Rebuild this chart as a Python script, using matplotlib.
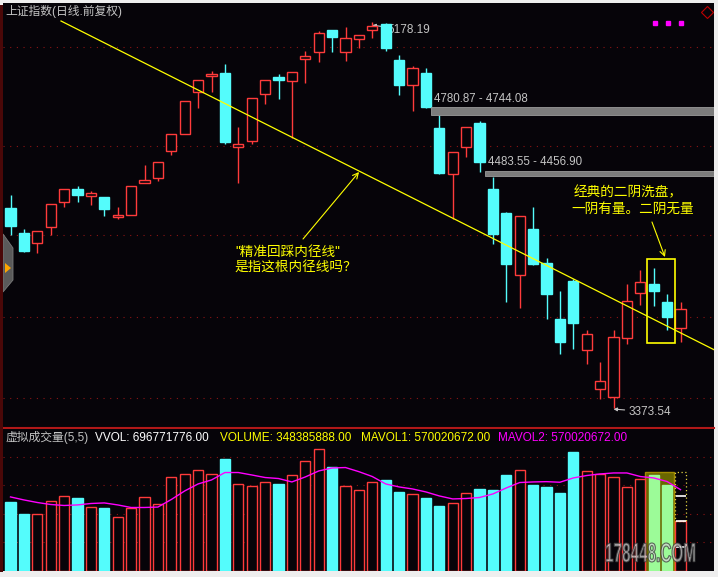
import matplotlib
import matplotlib.pyplot as plt
import matplotlib.transforms as mtransforms
from matplotlib.font_manager import FontProperties
from matplotlib.patches import PathPatch, Polygon, Rectangle
from matplotlib.textpath import TextPath

matplotlib.use("Agg")

plt.rcParams["font.family"] = ["Liberation Sans", "Noto Sans CJK SC", "DejaVu Sans"]

# 上证指数 daily candles (price)
OPEN = [4308.6, 4191.7, 4145.0, 4219.8, 4336.7, 4397.4, 4364.7, 4360.0, 4266.5, 4275.9,
        4425.5, 4448.9, 4575.1, 4654.6, 4850.9, 4925.7, 4939.7, 4593.8, 4621.8, 4841.6,
        4921.0, 4902.3, 5005.2, 5037.9, 5140.8, 5037.9, 5098.7, 5140.8, 5168.8, 5000.5,
        4883.6, 4939.7, 4682.6, 4467.6, 4593.8, 4706.0, 4397.4, 4285.2, 3995.4, 4210.4,
        4051.5, 3789.7, 3967.3, 3644.8, 3462.4, 3425.0, 3700.9, 3911.2, 3953.3, 3869.2,
        3747.6]
HIGH = [4369.4, 4210.4, 4201.1, 4327.3, 4397.4, 4411.5, 4388.1, 4360.0, 4313.3, 4411.5,
        4509.6, 4523.7, 4654.6, 4808.8, 4907.0, 4949.1, 4981.8, 4687.3, 4822.9, 4907.0,
        4935.1, 4944.4, 5042.6, 5136.1, 5140.8, 5154.8, 5117.4, 5178.2, 5173.5, 5023.9,
        4972.5, 4963.1, 4743.4, 4570.4, 4687.3, 4715.3, 4453.5, 4289.9, 4271.2, 4313.3,
        4074.8, 3920.6, 3976.7, 3738.3, 3588.7, 3738.3, 3953.3, 4018.8, 4028.1, 3906.6,
        3869.2]
LOW = [4182.4, 4102.9, 4098.2, 4182.4, 4313.3, 4336.7, 4322.6, 4271.2, 4257.2, 4275.9,
       4425.5, 4434.8, 4556.4, 4654.6, 4776.1, 4850.9, 4607.8, 4425.5, 4607.8, 4794.8,
       4818.2, 4635.9, 4893.0, 4991.2, 5037.9, 4995.8, 5056.6, 5103.4, 5042.6, 4836.9,
       4762.1, 4776.1, 4467.6, 4257.2, 4547.0, 4476.9, 4140.3, 3869.2, 3841.1, 4042.1,
       3789.7, 3626.0, 3649.4, 3579.3, 3415.7, 3373.5, 3672.8, 3855.1, 3850.5, 3738.3,
       3682.2]
CLOSE = [4224.5, 4107.6, 4201.1, 4327.3, 4397.4, 4369.4, 4378.7, 4303.9, 4275.9, 4411.5,
         4439.5, 4523.7, 4654.6, 4808.8, 4907.0, 4935.1, 4617.2, 4607.8, 4822.9, 4907.0,
         4907.0, 4944.4, 5019.2, 5126.7, 5108.0, 5103.4, 5117.4, 5159.5, 5056.6, 4883.6,
         4963.1, 4780.8, 4472.2, 4570.4, 4687.3, 4523.7, 4187.0, 4046.8, 4271.2, 4046.8,
         3906.6, 3682.2, 3771.0, 3719.6, 3499.8, 3705.5, 3873.8, 3962.7, 3920.6, 3799.0,
         3836.4]

# volume in 亿股, and its 5-day average
VOLUME = [4.84, 3.99, 3.97, 4.88, 5.23, 5.12, 4.46, 4.41, 3.76, 4.39,
          5.16, 4.67, 6.57, 6.78, 7.06, 6.78, 7.85, 6.08, 5.94, 6.22,
          6.10, 6.71, 7.69, 8.53, 7.27, 5.94, 5.66, 6.22, 6.38, 5.54,
          5.37, 5.12, 4.56, 4.74, 5.45, 5.75, 5.68, 6.73, 7.06, 6.03,
          5.89, 5.47, 8.34, 6.99, 6.78, 6.57, 5.89, 6.45, 6.73, 6.03,
          3.48]
MAVOL = [5.19, 4.98, 4.80, 4.66, 4.59, 4.63, 4.73, 4.77, 4.63, 4.45,
         4.45, 4.48, 5.01, 5.61, 6.10, 6.38, 6.90, 6.90, 6.73, 6.55,
         6.48, 6.24, 6.59, 7.01, 7.22, 7.25, 6.96, 6.62, 6.10, 5.89,
         5.75, 5.54, 5.26, 5.05, 5.08, 5.15, 5.40, 5.82, 6.20, 6.24,
         6.26, 6.22, 6.52, 6.69, 6.80, 6.87, 6.87, 6.62, 6.52, 6.27,
         5.70]
VVOL_LAST = 6.97
LAST_TICKS = [1.68, 3.50, 5.26]
HIGHLIGHT = (47.35, 49.51, 6.96)
GREEN_BARS = [48, 49]

PRICE_GRID = [5059.9, 4599.8, 4182.4, 3797.6, 3419.0]
VOL_GRID = [2, 4, 6, 8]
GAPS = [(31.4, 4744.08, 4780.87), (35.4, 4456.90, 4483.55)]
HIGH_IDX, HIGH_TXT = 27, "5178.19"
LOW_IDX, LOW_TXT = 45, "3373.54"
TREND_X = [3.77, 52.84]
TREND_Y = [5182.8, 3635.4]
BOX = (47.50, 49.59, 3677.5, 4070.2)

BG = "#060409"
RED = "#ff3b3b"
CYAN = "#54fcfc"
GRID = "#8c1414"
YEL = "#ffff00"
MAG = "#ff00ff"
GREY_TXT = "#c4c4c4"
W = 0.76

fig = plt.figure(figsize=(7.18, 5.77), dpi=100, facecolor="#eeeeee")
ax = fig.add_axes([3 / 718, 1 - 428 / 577, 711 / 718, 425 / 577], facecolor=BG)
axv = fig.add_axes([3 / 718, 1 - 571 / 577, 711 / 718, 142 / 577], facecolor=BG)

for a in (ax, axv):
    a.set_xlim(-0.56, 52.5)
    a.set_xticks([])
    a.set_yticks([])
    for s in a.spines.values():
        s.set_visible(False)
ax.set_ylim(3280.1, 5267.0)
axv.set_ylim(0, 9.95)
ax.spines["bottom"].set_visible(True)
ax.spines["bottom"].set_color("#b01818")
ax.spines["bottom"].set_linewidth(1.5)

# left dark red frame line
fig.add_artist(Rectangle((0, 5 / 577), 3 / 718, 567 / 577, transform=fig.transFigure,
                         facecolor="#4a0808", edgecolor="none"))

for p in PRICE_GRID:
    ax.axhline(p, color=GRID, lw=0.8, ls=(0, (1, 5)), zorder=1)
for v in VOL_GRID:
    axv.axhline(v, color=GRID, lw=0.8, ls=(0, (1, 5)), zorder=1)

# candles
for i in range(len(OPEN)):
    o, h, l, c = OPEN[i], HIGH[i], LOW[i], CLOSE[i]
    up = c >= o
    col = RED if up else CYAN
    ax.vlines(i, l, h, color=col, lw=1.0, zorder=3)
    ax.add_patch(Rectangle((i - W / 2, min(o, c)), W, abs(c - o),
                           facecolor=BG if up else CYAN, edgecolor=col, lw=1.0, zorder=3))

# gap bars
for x0, lo, hi in GAPS:
    ax.add_patch(Rectangle((x0, lo), 53 - x0, hi - lo, facecolor="#7c7c7c",
                           edgecolor="#9a9a9a", lw=0.6, zorder=4))
    ax.annotate(f"{hi:.2f} - {lo:.2f}", xy=(x0, hi), xytext=(2, 1.5), textcoords="offset points",
                color=GREY_TXT, fontsize=8.3, ha="left", va="bottom", zorder=4)

# extreme price labels with arrows
arrow_kw = dict(arrowstyle="-|>", color=GREY_TXT, lw=0.8, mutation_scale=5, shrinkA=1, shrinkB=0)
ax.annotate(HIGH_TXT, xy=(HIGH_IDX, HIGH[HIGH_IDX] - 15), xytext=(11, -3.5),
            textcoords="offset points", color=GREY_TXT, fontsize=8.5, ha="left", va="center",
            arrowprops=arrow_kw, zorder=2)
ax.annotate(LOW_TXT, xy=(LOW_IDX, LOW[LOW_IDX] - 5), xytext=(11, -2),
            textcoords="offset points", color=GREY_TXT, fontsize=8.5, ha="left", va="center",
            arrowprops=arrow_kw, zorder=2)

# trend line
ax.plot(TREND_X, TREND_Y, color=YEL, lw=0.9, zorder=5)

# notes
ax.text(16.75, 4102.9, '"精准回踩内径线"', color=YEL, fontsize=9.8, ha="left", va="center", zorder=6)
ax.text(16.75, 4028.1, "是指这根内径线吗？", color=YEL, fontsize=9.8, ha="left", va="center", zorder=6)
ax.annotate("", xy=(26.01, 4476.9), xytext=(21.83, 4163.7),
            arrowprops=dict(arrowstyle="->", color=YEL, lw=0.8, shrinkA=0, shrinkB=0), zorder=6)
ax.text(42.05, 4383.4, "经典的二阴洗盘，", color=YEL, fontsize=9.8, ha="left", va="center", zorder=6)
ax.text(41.83, 4299.3, "一阴有量。二阴无量", color=YEL, fontsize=9.8, ha="left", va="center", zorder=6)
ax.annotate("", xy=(48.84, 4079.5), xytext=(47.87, 4243.2),
            arrowprops=dict(arrowstyle="->", color=YEL, lw=0.8, shrinkA=0, shrinkB=0), zorder=6)
bx0, bx1, by0, by1 = BOX
ax.add_patch(Rectangle((bx0, by0), bx1 - bx0, by1 - by0, facecolor="none",
                       edgecolor=YEL, lw=1.2, zorder=6))

ax.text(0.003, 0.979, "上证指数(日线.前复权)", transform=ax.transAxes, color=GREY_TXT,
        fontsize=8.5, ha="left", va="center")

# top-right icons
ax.plot([0.917, 0.935, 0.954], [0.953] * 3, ls="none", marker="s", ms=3.2, color=MAG,
        transform=ax.transAxes, zorder=6)
ax.plot([0.990], [0.979], ls="none", marker="D", ms=6, mfc="none", mec="#c00000", mew=0.8,
        transform=ax.transAxes, zorder=6)

# left side tab
tab = [((3 - 3) / 711, (428 - 234) / 425), ((13 - 3) / 711, (428 - 248) / 425),
       ((13 - 3) / 711, (428 - 280) / 425), ((3 - 3) / 711, (428 - 292) / 425)]
ax.add_patch(Polygon(tab, closed=True, transform=ax.transAxes, facecolor="#5a5a5a",
                     edgecolor="#7a7a7a", lw=0.6, zorder=7))
tri = [((5 - 3) / 711, (428 - 263) / 425), ((5 - 3) / 711, (428 - 273) / 425),
       ((11 - 3) / 711, (428 - 268) / 425)]
ax.add_patch(Polygon(tri, closed=True, transform=ax.transAxes, facecolor="#ffa500",
                     edgecolor="none", zorder=8))

# volume panel
hx0, hx1, htop = HIGHLIGHT
axv.add_patch(Rectangle((hx0, 0), hx1 - hx0, htop, facecolor="#6a6600", edgecolor="#a08a00",
                        lw=1.0, zorder=2))
last = len(VOLUME) - 1
for i, v in enumerate(VOLUME):
    up = CLOSE[i] >= OPEN[i]
    if i in GREEN_BARS:
        axv.add_patch(Rectangle((i - W / 2, 0), W, v, facecolor="#9cfb98", edgecolor="#9cfb98",
                                lw=1.0, zorder=3))
    elif up:
        axv.add_patch(Rectangle((i - W / 2, 0), W, v, facecolor=BG, edgecolor=RED, lw=1.0, zorder=3))
    else:
        axv.add_patch(Rectangle((i - W / 2, 0), W, v, facecolor=CYAN, edgecolor=CYAN, lw=1.0, zorder=3))
axv.add_patch(Rectangle((last - W / 2, VOLUME[last]), W, VVOL_LAST - VOLUME[last], facecolor="none",
                        edgecolor="#e0d040", lw=0.9, ls=(0, (1, 2)), zorder=3))
axv.hlines(LAST_TICKS, last - 0.3, last + W / 2, color="white", lw=1.2, zorder=4)
axv.plot(range(len(MAVOL)), MAVOL, color=MAG, lw=1.0, zorder=5)

hy = 0.939
axv.text((5 - 3) / 711, hy, "虚拟成交量(5,5)", transform=axv.transAxes, color=GREY_TXT,
         fontsize=8.5, ha="left", va="center", zorder=6)
axv.text((95 - 3) / 711, hy, "VVOL: 696771776.00", transform=axv.transAxes, color="white",
         fontsize=8.5, ha="left", va="center", zorder=6)
axv.text((220 - 3) / 711, hy, "VOLUME: 348385888.00", transform=axv.transAxes, color=YEL,
         fontsize=8.5, ha="left", va="center", zorder=6)
axv.text((361 - 3) / 711, hy, "MAVOL1: 570020672.00", transform=axv.transAxes, color=YEL,
         fontsize=8.5, ha="left", va="center", zorder=6)
axv.text((498 - 3) / 711, hy, "MAVOL2: 570020672.00", transform=axv.transAxes, color=MAG,
         fontsize=8.5, ha="left", va="center", zorder=6)

# watermark, stretched tall like the original
tp = TextPath((0, 0), "178448.COM", size=10, prop=FontProperties(family="Liberation Sans", weight="bold"))
ext = tp.get_extents()
tr = (mtransforms.Affine2D().translate(-ext.x0, -ext.y0)
      .scale(89 / ext.width, 19 / ext.height).translate(606, 15))
fig.add_artist(PathPatch(tp, transform=tr, facecolor="#d4d4d4", edgecolor="#3a3a3a",
                         lw=0.8, alpha=0.75, zorder=10))

fig.savefig("out.png", dpi=100, facecolor=fig.get_facecolor())
